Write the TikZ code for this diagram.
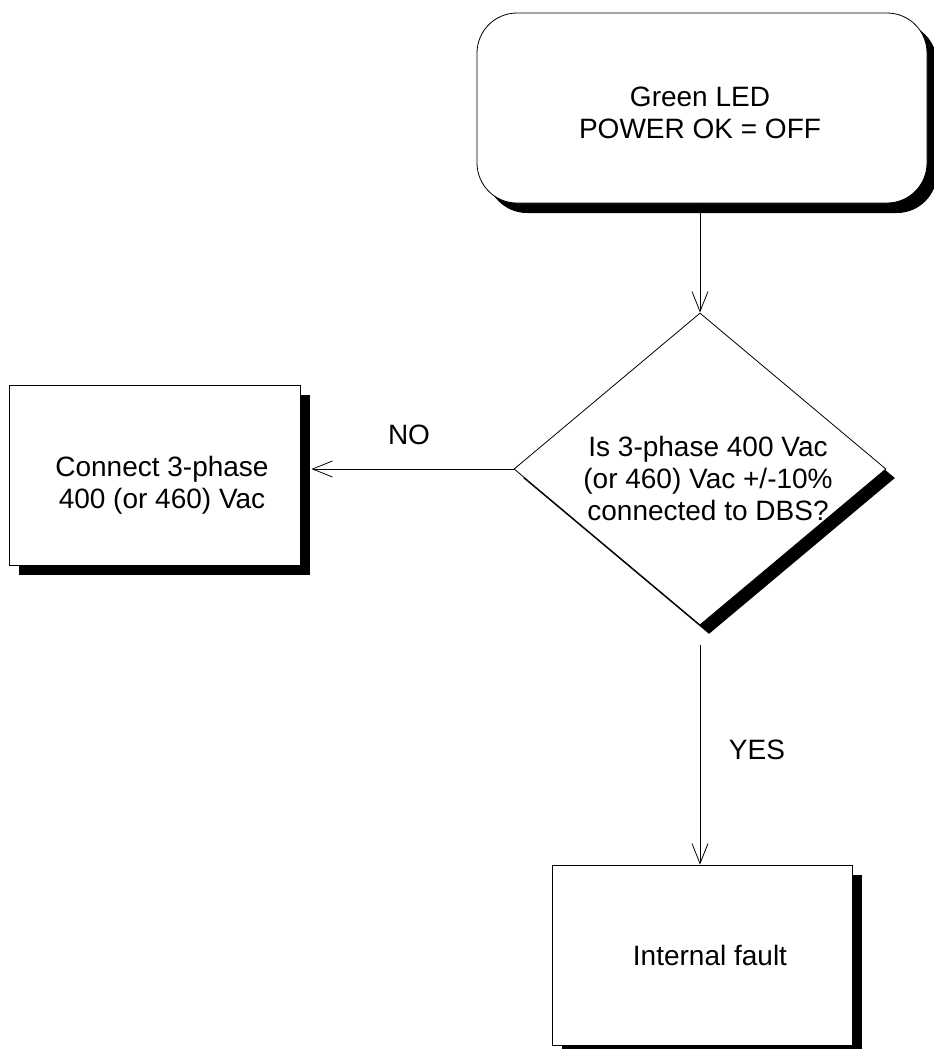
\documentclass[tikz,border=0pt]{standalone}
\usepackage{fontspec}
\setmainfont{Liberation Sans}
\usetikzlibrary{arrows.meta,shapes.geometric,shadows}
\begin{document}
\begin{tikzpicture}[x=1bp,y=-1bp,
  every node/.style={font=\fontsize{28bp}{32bp}\selectfont},
  box/.style={draw=black, line width=0.8bp, fill=white, inner sep=0pt,
    drop shadow={shadow xshift=10bp,shadow yshift=-10bp,opacity=1,fill=black}},
  dbox/.style={draw=black, line width=0.8bp, fill=white, inner sep=0pt, diamond,
    drop shadow={shadow xshift=9bp,shadow yshift=-9bp,opacity=1,fill=black}},
  lbl/.style={align=center, inner sep=0pt},
  arr/.style={line width=0.8bp, -{Straight Barb[length=20bp,width=16bp,line width=0.8bp]}}
]
\useasboundingbox (0,0) rectangle (934,1049);

\node[box, rounded corners=40bp, minimum width=450bp, minimum height=190bp] (start) at (702,108) {};
\node[lbl] (starttxt) at (700,112.5) {Green LED\\POWER OK = OFF};

\node[dbox, minimum width=372bp, minimum height=312bp] (dec) at (700,469) {};
\node[lbl] (dectxt) at (708,478) {Is 3-phase 400 Vac\\(or 460) Vac +/-10\%\\connected to DBS?};

\node[box, minimum width=291bp, minimum height=180bp] (conn) at (154.5,475) {};
\node[lbl] (conntxt) at (162,485) {Connect 3-phase\\400 (or 460) Vac};

\node[box, minimum width=300bp, minimum height=180bp] (fault) at (702,955) {};
\node[lbl] (faulttxt) at (710,955) {Internal fault};

\node[lbl] (no) at (409,435) {NO};
\node[lbl] (yes) at (757,750) {YES};

\draw[arr] (start.south -| dec.north) -- (dec.north);
\draw[arr] (dec.west) -- ([xshift=11bp]conn.east |- dec.west);
\draw[arr] ([yshift=-20bp]dec.south) -- (fault.north -| dec.south);
\end{tikzpicture}
\end{document}
